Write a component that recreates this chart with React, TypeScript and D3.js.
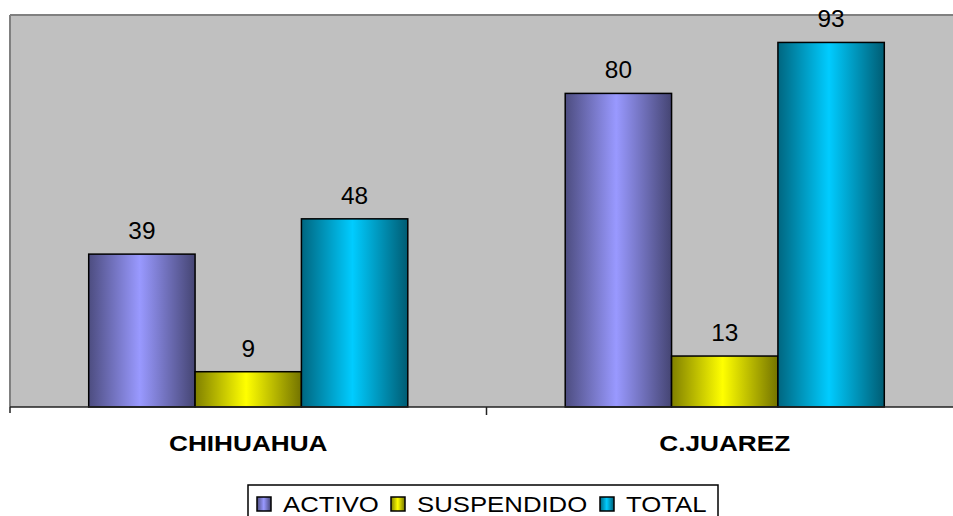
import React from 'react'
import {scaleBand, scaleLinear, interpolateRgb} from 'd3'

const categories = ['CHIHUAHUA', 'C.JUAREZ']
const seriesNames = ['ACTIVO', 'SUSPENDIDO', 'TOTAL']
const activo = [39, 80]
const suspendido = [9, 13]
const total = [48, 93]
const seriesColors = ['#9999FF', '#FFFF00', '#00CCFF']

const W = 953
const H = 516
const plot = {left: 10, top: 15, right: 963, bottom: 407}
const font = '"Liberation Sans", Arial, sans-serif'
const stretch = 1.12

export default function App() {
    const seriesValues = [activo, suspendido, total]

    const x0 = scaleBand<string>().domain(categories).range([plot.left, plot.right]).padding(0)
    const x1 = scaleBand<string>().domain(seriesNames).range([0, x0.bandwidth()]).paddingInner(0).paddingOuter(0.74)
    const y = scaleLinear().domain([0, 100]).range([plot.bottom, plot.top])

    // legend layout (widths estimated for 23px Arial stretched)
    const legendWidths = [96, 171, 83]
    let lx = 257
    const legendItems = seriesNames.map((name, i) => {
        const item = {name, marker: lx, text: lx + 26}
        lx = item.text + legendWidths[i] + 12
        return item
    })
    const legendRight = lx - 3

    return (
        <svg width={W} height={H} style={{position: 'absolute', left: 0, top: 0}} fontFamily={font}>
            <defs>
                {seriesColors.map((c, i) => {
                    const dark = interpolateRgb(c, '#000')(0.5)
                    return (
                        <linearGradient key={i} id={'grad' + i} x1="0" x2="1" y1="0" y2="0">
                            <stop offset="0%" stopColor={dark}/>
                            <stop offset="48%" stopColor={c}/>
                            <stop offset="100%" stopColor={interpolateRgb(c, '#000')(0.55)}/>
                        </linearGradient>
                    )
                })}
            </defs>
            <rect x={0} y={0} width={W} height={H} fill="#fff"/>

            {/* plot area */}
            <rect x={plot.left} y={plot.top} width={plot.right - plot.left} height={plot.bottom - plot.top} fill="#C0C0C0"/>
            <line x1={plot.left} x2={W} y1={plot.top} y2={plot.top} stroke="#808080" strokeWidth={2}/>
            <line x1={plot.left} x2={plot.left} y1={plot.top} y2={plot.bottom} stroke="#808080" strokeWidth={2}/>

            {/* bars */}
            {categories.map((cat, ci) => (
                <g key={cat} transform={`translate(${x0(cat)},0)`}>
                    {seriesNames.map((s, si) => {
                        const v = seriesValues[si][ci]
                        const bx = x1(s) as number
                        return (
                            <g key={s}>
                                <rect x={bx} y={y(v)} width={x1.bandwidth()} height={plot.bottom - y(v)}
                                      fill={`url(#grad${si})`} stroke="#000" strokeWidth={1.5}/>
                                <text transform={`translate(${bx + x1.bandwidth() / 2},${y(v) - 15}) scale(1.06,1)`}
                                      textAnchor="middle" fontSize={23} fill="#000">{v}</text>
                            </g>
                        )
                    })}
                </g>
            ))}

            {/* category axis */}
            <line x1={plot.left} x2={W} y1={plot.bottom} y2={plot.bottom} stroke="#222" strokeWidth={1.5}/>
            {categories.map((cat, i) => i > 0 && (
                <line key={cat} x1={x0(cat)} x2={x0(cat)} y1={plot.bottom} y2={plot.bottom + 8} stroke="#222" strokeWidth={1.5}/>
            ))}
            <line x1={plot.left} x2={plot.left} y1={plot.bottom} y2={plot.bottom + 6} stroke="#222" strokeWidth={1.5}/>
            {categories.map(cat => (
                <text key={cat} transform={`translate(${(x0(cat) as number) + x0.bandwidth() / 2},451) scale(1.19,1)`}
                      textAnchor="middle" fontSize={22} fontWeight="bold" fill="#000">{cat}</text>
            ))}

            {/* legend */}
            <rect x={248} y={485} width={legendRight - 248} height={40} fill="#fff" stroke="#000" strokeWidth={1.5}/>
            {legendItems.map((it, i) => (
                <g key={it.name}>
                    <rect x={it.marker} y={497} width={14} height={14} fill={`url(#grad${i})`} stroke="#000" strokeWidth={1.5}/>
                    <text transform={`translate(${it.text},512) scale(${stretch},1)`} fontSize={23} fill="#000">{it.name}</text>
                </g>
            ))}
        </svg>
    )
}
